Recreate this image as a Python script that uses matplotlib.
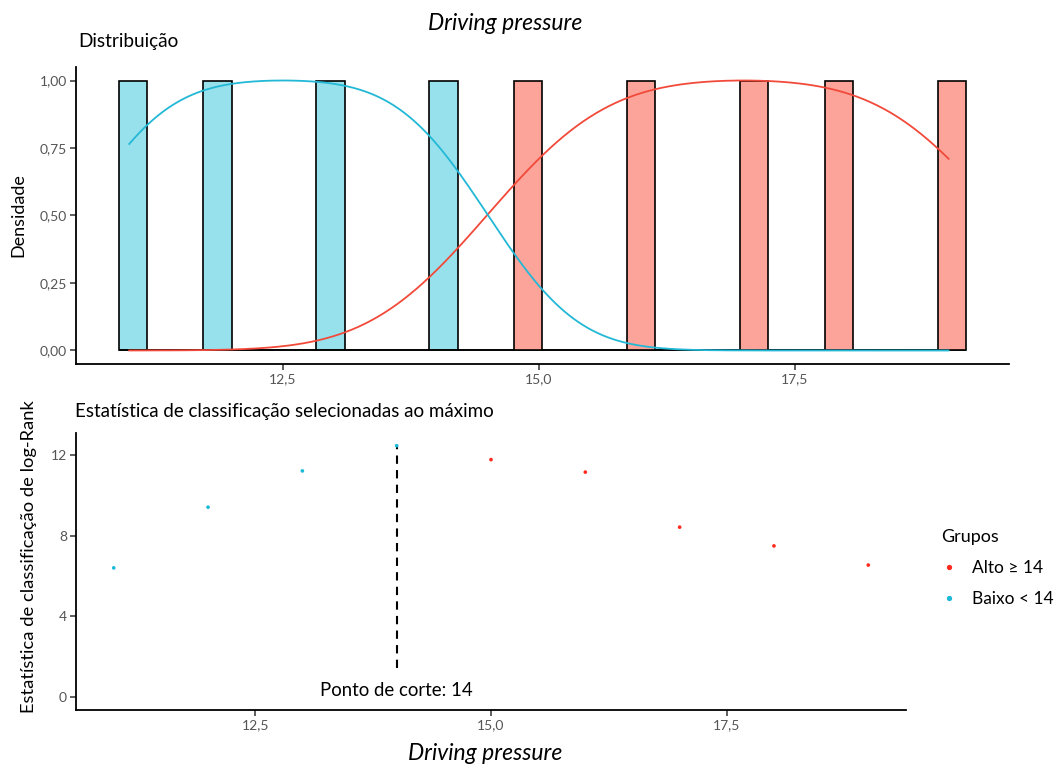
import numpy as np
import matplotlib
matplotlib.use("Agg")
import matplotlib.pyplot as plt
from matplotlib.lines import Line2D

plt.rcParams['font.family'] = ['Lato', 'DejaVu Sans']

# data
baixo_vals = [11, 12, 13, 14]
alto_vals = [15, 16, 17, 18, 19]
pressure = [11, 12, 13, 14, 15, 16, 17, 18, 19]
logrank = [6.41, 9.42, 11.22, 12.47, 11.78, 11.16, 8.43, 7.50, 6.55]
cutpoint = 14
group_labels = ["Alto \u2265 14", "Baixo < 14"]

red_line = "#F24A3A"
blue_line = "#22B8D6"
red_fill = "#FCA39A"
blue_fill = "#97E1EC"
red_pt = "#FF2A1F"
blue_pt = "#1CB9D8"
tick_gray = "#555555"

W, H = 1062, 770


def hist_bins(all_vals, nbins=30):
    lo, hi = min(all_vals), max(all_vals)
    w = (hi - lo) / (nbins - 1)
    boundary = w / 2
    shift = np.floor((lo - boundary) / w)
    origin = boundary + shift * w
    edges = origin + np.arange(nbins + 1) * w
    return edges, w


def ncount(vals, edges):
    # right-closed bins, like ggplot
    idx = np.searchsorted(edges, np.array(vals) - 1e-8, side='left') - 1
    counts = np.bincount(idx, minlength=len(edges) - 1)[:len(edges) - 1]
    return counts / counts.max()


def scaled_kde(vals, grid):
    v = np.array(vals, dtype=float)
    sd = v.std(ddof=1)
    q75, q25 = np.percentile(v, [75, 25])
    bw = 0.9 * min(sd, (q75 - q25) / 1.34) * len(v) ** (-0.2)
    d = np.exp(-0.5 * ((grid[:, None] - v[None, :]) / bw) ** 2).sum(axis=1)
    return d / d.max()


fig = plt.figure(figsize=(W / 100, H / 100), dpi=100)

# ---- top panel: distribution
ax1 = fig.add_axes([76 / W, 1 - 364 / H, 933 / W, 297 / H])
edges, w = hist_bins(pressure)
centers = (edges[:-1] + edges[1:]) / 2
ax1.bar(centers, ncount(baixo_vals, edges), width=w, color=blue_fill,
        edgecolor="black", linewidth=1.2, zorder=2)
ax1.bar(centers, ncount(alto_vals, edges), width=w, color=red_fill,
        edgecolor="black", linewidth=1.2, zorder=2)

grid = np.linspace(min(pressure), max(pressure), 512)
ax1.plot(grid, scaled_kde(alto_vals, grid), color=red_line, lw=1.3, zorder=3)
ax1.plot(grid, scaled_kde(baixo_vals, grid), color=blue_line, lw=1.3, zorder=3)

ax1.set_xlim(10.48, 19.59)
ax1.set_ylim(-0.05, 1.05)
ax1.set_xticks([12.5, 15.0, 17.5])
ax1.set_xticklabels(["12,5", "15,0", "17,5"])
ax1.set_yticks([0, 0.25, 0.5, 0.75, 1.0])
ax1.set_yticklabels(["0,00", "0,25", "0,50", "0,75", "1,00"])
fig.text(18 / W, 1 - 215 / H, "Densidade", rotation=90, ha="center",
         va="center", fontsize=13)
fig.text(78 / W, 1 - 42 / H, "Distribuição", ha="left", va="center",
         fontsize=13.7)

# ---- bottom panel: log-rank statistic
ax2 = fig.add_axes([76 / W, 1 - 710 / H, 830 / W, 277 / H])
cols = [blue_pt if p <= cutpoint else red_pt for p in pressure]
ax2.scatter(pressure, logrank, s=7, c=cols, linewidths=0, zorder=3)
ax2.vlines(cutpoint, 1.45, max(logrank), colors="black",
           linestyles=(0, (4, 3)), lw=1.5, zorder=2)
ax2.text(cutpoint, 0.35, "Ponto de corte: %d" % cutpoint, ha="center",
         va="center", fontsize=13.4)

ax2.set_xlim(10.6, 19.4)
ax2.set_ylim(-0.64, 13.1)
ax2.set_xticks([12.5, 15.0, 17.5])
ax2.set_xticklabels(["12,5", "15,0", "17,5"])
ax2.set_yticks([0, 4, 8, 12])
fig.text(485 / W, 1 - 753 / H, "Driving pressure", ha="center", va="center",
         fontsize=16.5, style="italic")
fig.text(29 / W, 1 - 557 / H, "Estatística de classificação de log-Rank",
         rotation=90, ha="center", va="center", fontsize=13.2)
fig.text(75 / W, 1 - 412 / H,
         "Estatística de classificação selecionadas ao máximo",
         ha="left", va="center", fontsize=13.5)

for ax in (ax1, ax2):
    for s in ("top", "right"):
        ax.spines[s].set_visible(False)
    for s in ("left", "bottom"):
        ax.spines[s].set_linewidth(1.3)
    ax.tick_params(axis="both", colors="#333333", labelcolor=tick_gray,
                   labelsize=10, length=4, width=1.1, pad=2.5)

handles = [Line2D([], [], marker="o", ls="", color=red_pt, markersize=2.8),
           Line2D([], [], marker="o", ls="", color=blue_pt, markersize=2.8)]
fig.legend(handles, group_labels, title="Grupos", loc="upper left",
           bbox_to_anchor=(0.871, 0.333), frameon=False, fontsize=12.5,
           title_fontsize=13, alignment="left", handlelength=1.0,
           handletextpad=0.8, labelspacing=0.86)

fig.text(505 / W, 1 - 23 / H, "Driving pressure", ha="center", va="center",
         fontsize=16.5, style="italic")

fig.savefig("out.png", dpi=100)
